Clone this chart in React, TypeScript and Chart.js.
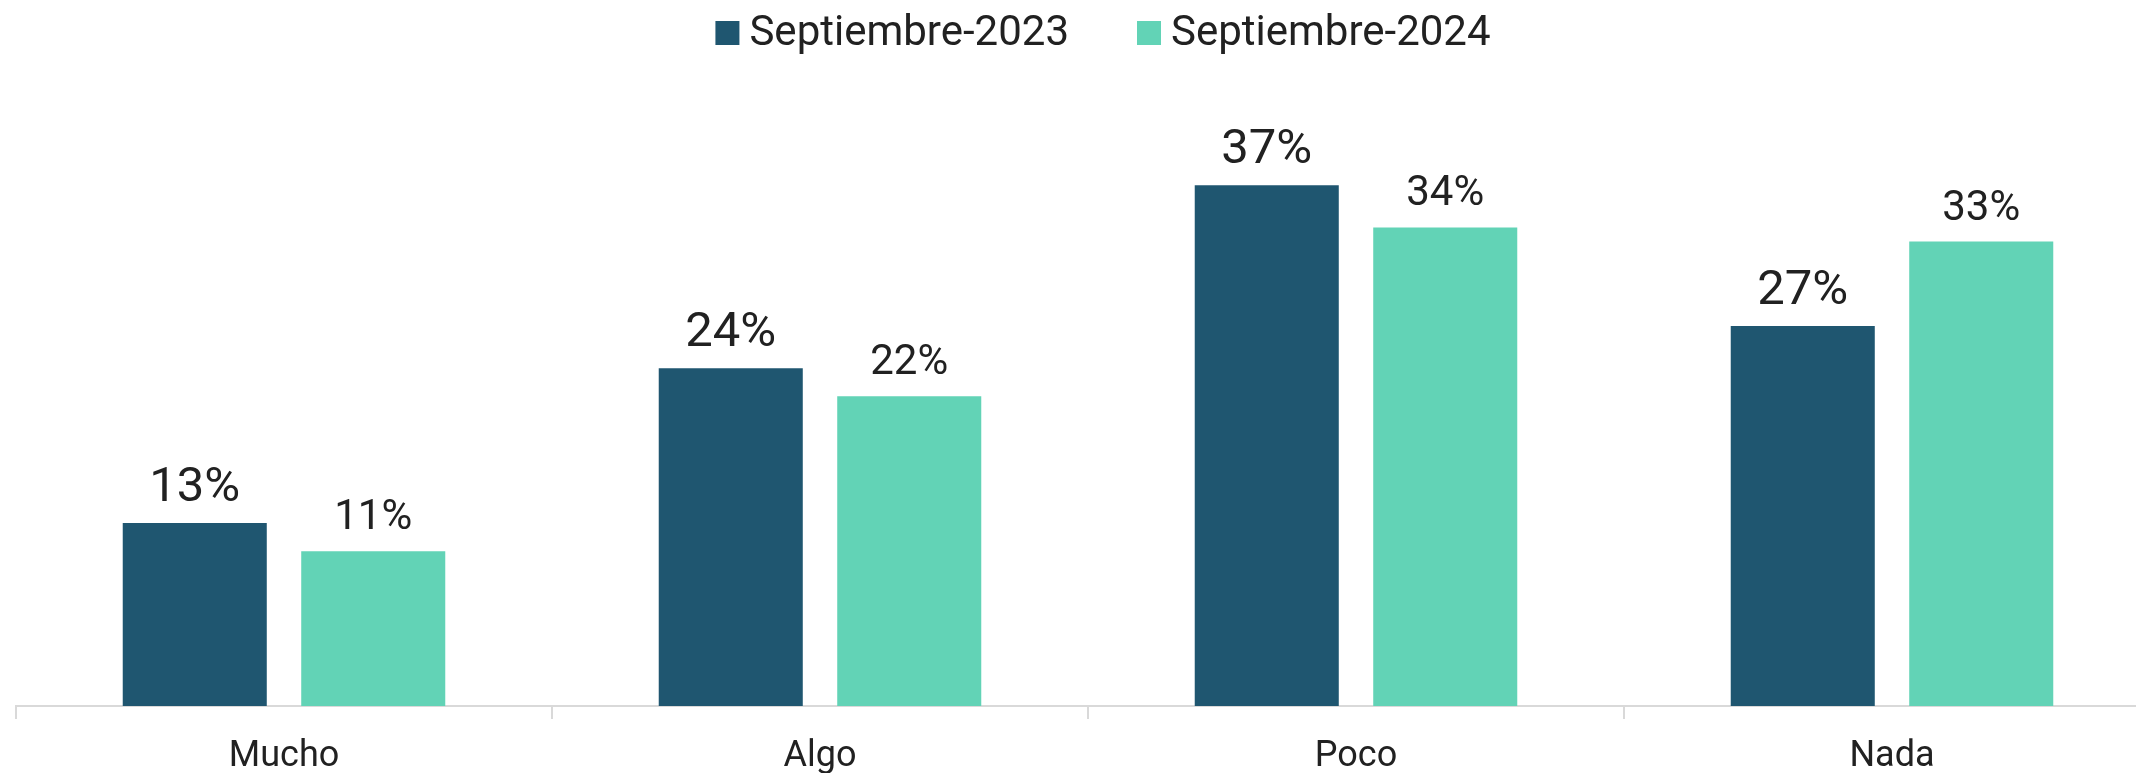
import React, { useEffect, useRef } from "react";
import { Chart, registerables } from "chart.js";

Chart.register(...registerables);

// Survey answers per category, two waves
const categories = ["Mucho", "Algo", "Poco", "Nada"];
const series2023 = [13, 24, 37, 27];
const series2024 = [11, 22, 34, 33];
const seriesLabels = ["Septiembre-2023", "Septiembre-2024"];
const seriesColors = ["#1F5670", "#62D3B6"];
const valueFontSizes = [49, 42];

const TEXT_COLOR = "#212121";
const AXIS_COLOR = "#D9D9D9";
const FONT = "Roboto";

// Percent labels above each bar
const valueLabels = {
  id: "valueLabels",
  afterDatasetsDraw(chart: any) {
    const ctx = chart.ctx;
    ctx.save();
    ctx.fillStyle = TEXT_COLOR;
    ctx.textAlign = "center";
    ctx.textBaseline = "alphabetic";
    chart.data.datasets.forEach((ds: any, i: number) => {
      const meta = chart.getDatasetMeta(i);
      ctx.font = `${valueFontSizes[i]}px ${FONT}`;
      meta.data.forEach((bar: any, j: number) => {
        ctx.fillText(`${ds.data[j]}%`, bar.x, bar.y - 22);
      });
    });
    ctx.restore();
  },
};

// Legend row centred at the top of the canvas
const topLegend = {
  id: "topLegend",
  afterDraw(chart: any) {
    const ctx = chart.ctx;
    const box = 24;
    const gapText = 10;
    const gapItem = 68;
    ctx.save();
    ctx.font = `42px ${FONT}`;
    const items = chart.data.datasets.map((ds: any) => ({
      text: ds.label,
      color: ds.backgroundColor,
      w: ctx.measureText(ds.label).width,
    }));
    const total =
      items.reduce((s: number, it: any) => s + box + gapText + it.w, 0) +
      gapItem * (items.length - 1);
    let x = chart.width / 2 - total / 2;
    items.forEach((it: any) => {
      ctx.fillStyle = it.color;
      ctx.fillRect(x, 13, box, box);
      ctx.fillStyle = TEXT_COLOR;
      ctx.textAlign = "left";
      ctx.textBaseline = "alphabetic";
      ctx.fillText(it.text, x + box + gapText, 37);
      x += box + gapText + it.w + gapItem;
    });
    ctx.restore();
  },
};

export default function App() {
  const canvasRef = useRef<HTMLCanvasElement | null>(null);

  useEffect(() => {
    if (!canvasRef.current) return;
    const chart = new Chart(canvasRef.current, {
      type: "bar",
      data: {
        labels: categories,
        datasets: [
          {
            label: seriesLabels[0],
            data: series2023,
            backgroundColor: seriesColors[0],
            categoryPercentage: 0.666,
            barPercentage: 0.807,
          },
          {
            label: seriesLabels[1],
            data: series2024,
            backgroundColor: seriesColors[1],
            categoryPercentage: 0.666,
            barPercentage: 0.807,
          },
        ],
      },
      options: {
        responsive: false,
        animation: false,
        layout: { padding: { top: 135, left: 8, right: 38, bottom: 0 } },
        plugins: {
          legend: { display: false },
          tooltip: { enabled: false },
        },
        scales: {
          x: {
            afterFit(scale: any) {
              scale.height = 67;
            },
            grid: {
              display: true,
              drawOnChartArea: false,
              drawTicks: true,
              tickLength: 13,
              color: AXIS_COLOR,
              lineWidth: 2,
              offset: true,
            },
            border: { display: true, color: AXIS_COLOR, width: 2 },
            ticks: {
              color: TEXT_COLOR,
              font: { family: FONT, size: 36 },
              padding: 16,
            },
          },
          y: { display: false, min: 0, max: 40 },
        },
      },
      plugins: [valueLabels, topLegend],
    });
    return () => chart.destroy();
  }, []);

  return (
    <div style={{ width: 2136, height: 765, overflow: "hidden" }}>
      <canvas
        ref={canvasRef}
        width={2190}
        height={765}
        style={{ display: "block" }}
      />
    </div>
  );
}
